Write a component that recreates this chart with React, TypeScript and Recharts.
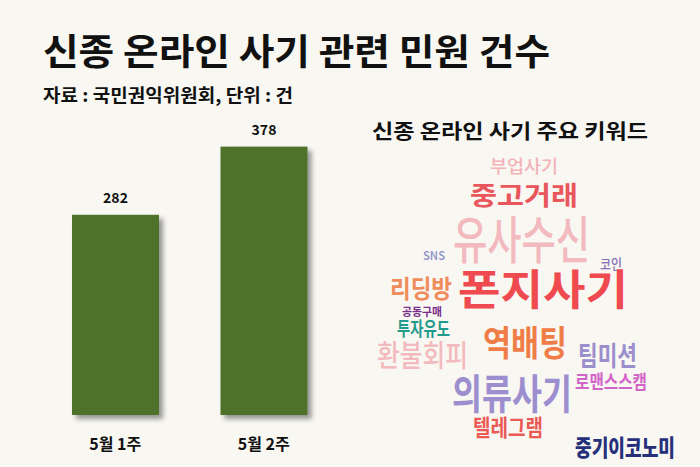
import React from 'react';
import { BarChart, Bar, XAxis, YAxis, LabelList } from 'recharts';

const weeks = ['5월 1주', '5월 2주'];
const complaints = [282, 378];

const keywords = [
  '부업사기', '중고거래', '유사수신', 'SNS', '코인', '리딩방', '폰지사기', '공동구매',
  '투자유도', '역배팅', '환불회피', '팀미션', '의류사기', '로맨스스캠', '텔레그램',
];

// word cloud layout: [left, right, top, bottom, color, weight]
const cloudLayout: [number, number, number, number, string, number][] = [
  [490, 558, 158, 174, '#f3b3b9', 500],
  [470, 578, 183, 207, '#e9565b', 700],
  [453, 590, 217, 263, '#f2b9bf', 500],
  [423, 445, 251, 260, '#8c90c9', 500],
  [600, 622, 258, 270, '#8670b6', 500],
  [390, 452, 277, 300, '#f08c5c', 700],
  [458, 628, 270, 308, '#ef4a4f', 700],
  [402, 442, 307, 317, '#7a2f8b', 700],
  [397, 450, 320, 337, '#1f9a8b', 700],
  [483, 567, 326, 358, '#f07d48', 700],
  [377, 468, 341, 368, '#f2babd', 500],
  [578, 637, 343, 368, '#9b8ecd', 700],
  [452, 572, 375, 412, '#9d8ecf', 700],
  [575, 647, 373, 390, '#d264c8', 700],
  [473, 543, 418, 438, '#eb5a55', 700],
];

const data = weeks.map((w, i) => ({ week: w, value: complaints[i] }));

const FONT = '"Noto Sans CJK KR", "Noto Sans", sans-serif';

function BoxText({ text, x1, x2, top, bottom, color, weight, latin }: any) {
  const h = bottom - top;
  const fs = latin ? h / 0.73 : h / 0.9;
  const baseline = latin ? bottom : bottom - 0.07 * fs;
  return (
    <text
      x={x1}
      y={baseline}
      fontSize={fs}
      fontWeight={weight}
      fill={color}
      fontFamily={FONT}
      textLength={x2 - x1}
      lengthAdjust="spacingAndGlyphs"
    >
      {text}
    </text>
  );
}

const WeekTick = (props: any) => {
  const { x, y, payload } = props;
  return (
    <text x={x} y={y} dy={35} textAnchor="middle" fontSize={16} fontWeight={700} fill="#111" fontFamily={FONT}>
      {payload.value}
    </text>
  );
};

const ShadowBar = (props: any) => {
  const { x, y, width, height, fill } = props;
  return <rect x={x} y={y} width={width} height={height} fill={fill} filter="url(#barShadow)" />;
};

export default function App() {
  return (
    <div style={{ position: 'fixed', left: 0, top: 0, width: 700, height: 467, background: '#f8f7f2', overflow: 'hidden' }}>
      <div style={{ position: 'absolute', left: 0, top: 0 }}>
        <BarChart width={360} height={467} data={data} margin={{ top: 131, right: 22, bottom: 12, left: 41 }}>
          <defs>
            <filter id="barShadow" x="-20%" y="-20%" width="150%" height="150%">
              <feDropShadow dx="4" dy="4" stdDeviation="2.5" floodColor="#000" floodOpacity="0.4" />
            </filter>
          </defs>
          <XAxis dataKey="week" axisLine={false} tickLine={false} tickSize={0} tickMargin={0} height={40} tick={<WeekTick />} interval={0} />
          <YAxis hide domain={[0, 400]} />
          <Bar dataKey="value" fill="#4f722b" barSize={87} isAnimationActive={false} shape={<ShadowBar />}>
            <LabelList dataKey="value" position="top" offset={12} fontSize={14} fontWeight={700} fill="#111" fontFamily={FONT} />
          </Bar>
        </BarChart>
      </div>
      <svg width={700} height={467} style={{ position: 'absolute', left: 0, top: 0, pointerEvents: 'none' }}>
        <BoxText text="신종 온라인 사기 관련 민원 건수" x1={43} x2={550} top={35} bottom={68} color="#111" weight={700} />
        <BoxText text="자료 : 국민권익위원회, 단위 : 건" x1={43} x2={293} top={87} bottom={103} color="#111" weight={700} />
        <BoxText text="신종 온라인 사기 주요 키워드" x1={372} x2={648} top={122} bottom={140} color="#111" weight={700} />
        {keywords.map((k, i) => {
          const [x1, x2, top, bottom, color, weight] = cloudLayout[i];
          return (
            <BoxText key={k} text={k} x1={x1} x2={x2} top={top} bottom={bottom} color={color} weight={weight} latin={k === 'SNS'} />
          );
        })}
        <BoxText text="중기이코노미" x1={575} x2={675} top={438} bottom={458} color="#26307a" weight={900} />
      </svg>
    </div>
  );
}
